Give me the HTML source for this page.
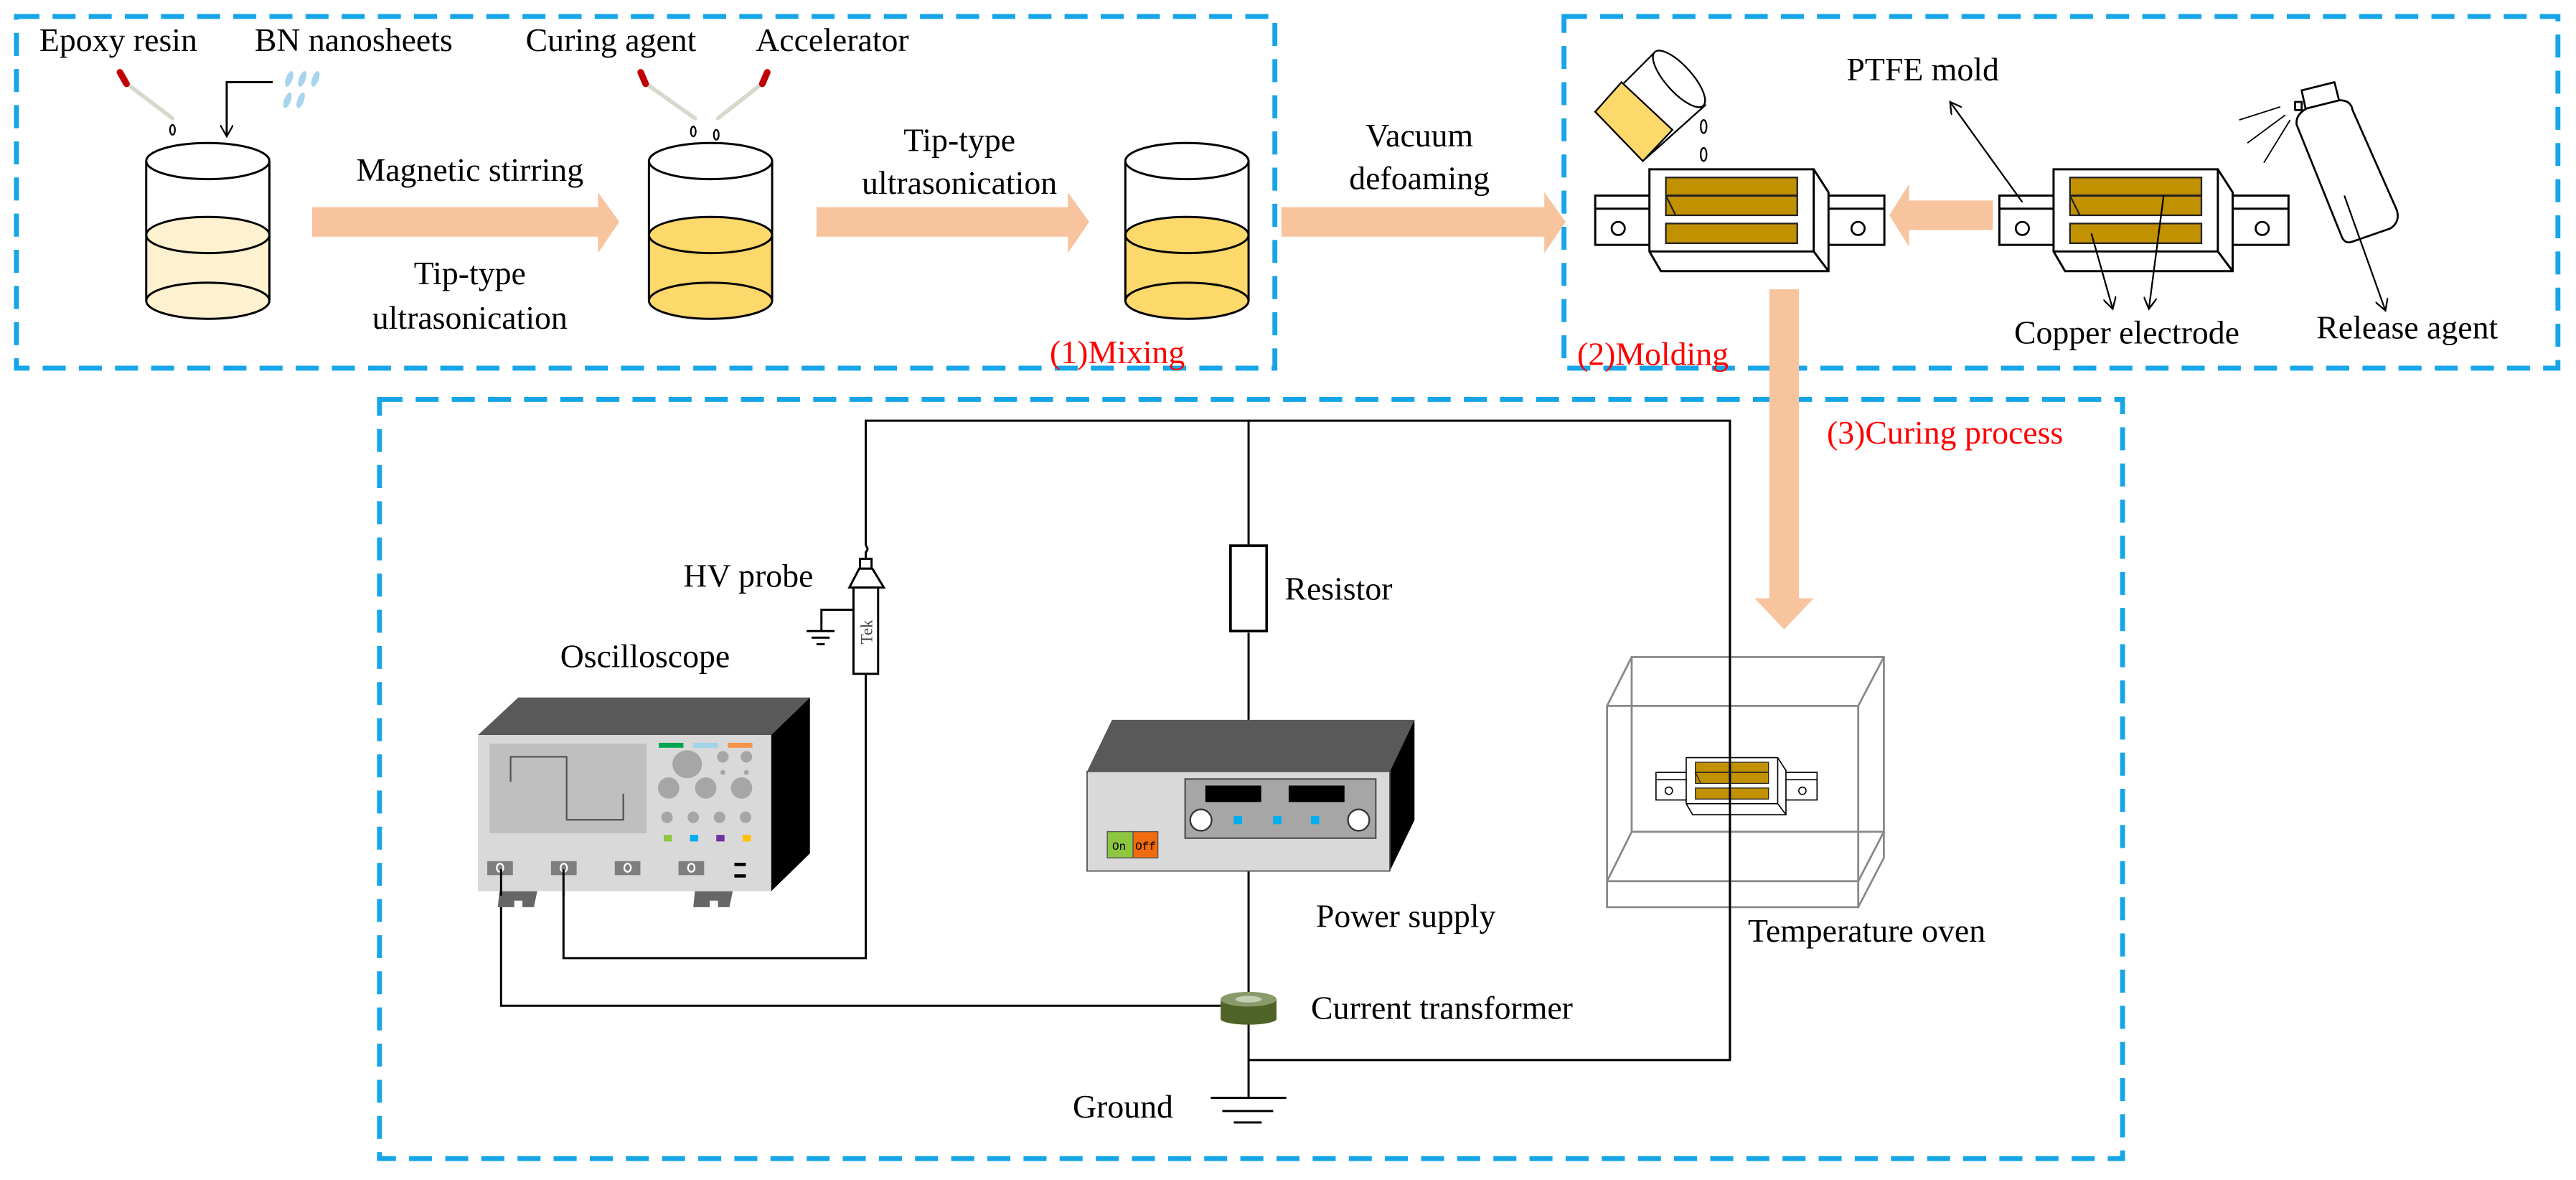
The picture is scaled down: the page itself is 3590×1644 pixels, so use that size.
<!DOCTYPE html>
<html><head><meta charset="utf-8"><style>
html,body{margin:0;padding:0;background:#fff;}
svg{display:block;}
</style></head><body>
<svg width="3590" height="1644" viewBox="0 0 1568 718" preserveAspectRatio="none" xmlns="http://www.w3.org/2000/svg">
<defs>
<g id="mold">
  <rect x="0" y="16" width="176" height="30" fill="#fff" stroke="#000" stroke-width="1.3"/>
  <line x1="0" y1="24" x2="33" y2="24" stroke="#000" stroke-width="1.3"/>
  <line x1="135" y1="24" x2="176" y2="24" stroke="#000" stroke-width="1.3"/>
  <polygon points="33,0 133,0 142,14 142,62 40,62 33,50" fill="#fff" stroke="#000" stroke-width="1.3"/>
  <line x1="33" y1="50" x2="133" y2="50" stroke="#000" stroke-width="1.3"/>
  <line x1="133" y1="0" x2="133" y2="50" stroke="#000" stroke-width="1.3"/>
  <line x1="133" y1="50" x2="142" y2="62" stroke="#000" stroke-width="1.3"/>
  <rect x="43" y="5" width="80" height="23" fill="#c19100" stroke="#222" stroke-width="1"/>
  <line x1="43" y1="16" x2="123" y2="16" stroke="#222" stroke-width="1.3"/>
  <rect x="43" y="33" width="80" height="12" fill="#c19100" stroke="#222" stroke-width="1"/>
  <line x1="43" y1="16" x2="49" y2="28" stroke="#222" stroke-width="1"/>
  <circle cx="14" cy="36" r="4" fill="#fff" stroke="#000" stroke-width="1.2"/>
  <circle cx="160" cy="36" r="4" fill="#fff" stroke="#000" stroke-width="1.2"/>
</g>
<marker id="ah" markerWidth="8" markerHeight="8" refX="7" refY="4" orient="auto" markerUnits="userSpaceOnUse">
  <path d="M0,0 L7,4 L0,8" fill="none" stroke="#000" stroke-width="1"/>
</marker>
</defs>

<g fill="none" stroke="#16a5e8" stroke-width="3" stroke-dasharray="14,8">
  <rect x="10" y="10" width="766" height="214"/>
  <rect x="952" y="10" width="605" height="214"/>
  <rect x="231" y="243" width="1061" height="462"/>
</g>

<g stroke="#000" stroke-width="1.3">
  <g>
    <rect x="89" y="143" width="75" height="40" fill="#fdf1cf" stroke="none"/>
    <ellipse cx="126.5" cy="183" rx="37.5" ry="11" fill="#fdf1cf"/>
    <ellipse cx="126.5" cy="143" rx="37.5" ry="11" fill="#fdf1cf"/>
    <line x1="89" y1="98" x2="89" y2="183"/><line x1="164" y1="98" x2="164" y2="183"/>
    <ellipse cx="126.5" cy="98" rx="37.5" ry="11" fill="#fff"/>
  </g>
  <g>
    <rect x="395" y="143" width="75" height="40" fill="#fdd86a" stroke="none"/>
    <ellipse cx="432.5" cy="183" rx="37.5" ry="11" fill="#fdd86a"/>
    <ellipse cx="432.5" cy="143" rx="37.5" ry="11" fill="#fdd86a"/>
    <line x1="395" y1="98" x2="395" y2="183"/><line x1="470" y1="98" x2="470" y2="183"/>
    <ellipse cx="432.5" cy="98" rx="37.5" ry="11" fill="#fff"/>
  </g>
  <g>
    <rect x="685" y="143" width="75" height="40" fill="#fdd86a" stroke="none"/>
    <ellipse cx="722.5" cy="183" rx="37.5" ry="11" fill="#fdd86a"/>
    <ellipse cx="722.5" cy="143" rx="37.5" ry="11" fill="#fdd86a"/>
    <line x1="685" y1="98" x2="685" y2="183"/><line x1="760" y1="98" x2="760" y2="183"/>
    <ellipse cx="722.5" cy="98" rx="37.5" ry="11" fill="#fff"/>
  </g>
</g>

<g stroke-linecap="round">
  <line x1="76" y1="50" x2="105" y2="72" stroke="#d8d8cc" stroke-width="2.5"/>
  <line x1="73" y1="44" x2="77" y2="51" stroke="#c00000" stroke-width="4"/>
  <line x1="392" y1="50" x2="423" y2="72" stroke="#d8d8cc" stroke-width="2.5"/>
  <line x1="390" y1="44" x2="393" y2="51" stroke="#c00000" stroke-width="4"/>
  <line x1="465" y1="50" x2="437" y2="72" stroke="#d8d8cc" stroke-width="2.5"/>
  <line x1="467" y1="44" x2="464" y2="51" stroke="#c00000" stroke-width="4"/>
</g>
<g fill="#fff" stroke="#000" stroke-width="1">
  <ellipse cx="105" cy="79" rx="1.5" ry="3"/>
  <ellipse cx="422" cy="80" rx="1.5" ry="3"/>
  <ellipse cx="436" cy="82" rx="1.5" ry="3"/>
  <ellipse cx="1037" cy="77" rx="1.8" ry="4"/>
  <ellipse cx="1037" cy="94" rx="1.8" ry="4"/>
</g>
<g fill="#a8d4ec">
  <ellipse cx="176" cy="48" rx="2" ry="5" transform="rotate(20 176 48)"/>
  <ellipse cx="184" cy="48" rx="2" ry="5" transform="rotate(20 184 48)"/>
  <ellipse cx="192" cy="48" rx="2" ry="5" transform="rotate(20 192 48)"/>
  <ellipse cx="175" cy="61" rx="2" ry="5" transform="rotate(20 175 61)"/>
  <ellipse cx="183" cy="61" rx="2" ry="5" transform="rotate(20 183 61)"/>
</g>
<polyline points="166,50 138,50 138,83" fill="none" stroke="#000" stroke-width="1.3" marker-end="url(#ah)"/>

<g fill="#f8c49e">
  <polygon points="190,126 364,126 364,117 377,135 364,154 364,144 190,144"/>
  <polygon points="497,126 650,126 650,117 663,135 650,154 650,144 497,144"/>
  <polygon points="780,126 940,126 940,117 953,135 940,154 940,144 780,144"/>
  <polygon points="1213,122 1162,122 1162,112 1150,131 1162,150 1162,140 1213,140"/>
  <polygon points="1077,176 1095,176 1095,364 1104,364 1086,383 1068,364 1077,364"/>
</g>

<g font-size="20" font-family="Liberation Serif, serif" fill="#000">
  <text x="24" y="31">Epoxy resin</text>
  <text x="155" y="31">BN nanosheets</text>
  <text x="320" y="31">Curing agent</text>
  <text x="460" y="31">Accelerator</text>
  <text x="286" y="110" text-anchor="middle">Magnetic stirring</text>
  <text x="286" y="173" text-anchor="middle">Tip-type</text>
  <text x="286" y="200" text-anchor="middle">ultrasonication</text>
  <text x="584" y="92" text-anchor="middle">Tip-type</text>
  <text x="584" y="118" text-anchor="middle">ultrasonication</text>
  <text x="864" y="89" text-anchor="middle">Vacuum</text>
  <text x="864" y="115" text-anchor="middle">defoaming</text>
  <text x="1124" y="49">PTFE mold</text>
  <text x="1226" y="209">Copper electrode</text>
  <text x="1410" y="206">Release agent</text>
  <text x="639" y="221" fill="#ff0000">(1)Mixing</text>
  <text x="960" y="222" fill="#ff0000">(2)Molding</text>
  <text x="1112" y="270" fill="#ff0000">(3)Curing process</text>
</g>

<use href="#mold" x="971" y="103"/>
<use href="#mold" x="1217" y="103"/>

<g stroke="#000" stroke-width="1">
  <polygon points="971,68 1007,32 1038,64 1000,98" fill="#fff"/>
  <polygon points="971,68 987,50 1018,79 1000,98" fill="#fdd86a"/>
  <ellipse cx="1022" cy="48" rx="8" ry="22" transform="rotate(-42 1022 48)" fill="#fff"/>
</g>

<g stroke="#000" stroke-width="1.2" fill="#fff" stroke-linejoin="round">
  <polygon points="1401,55 1421,50 1424,62 1404,69"/>
  <rect x="1397" y="62" width="4" height="5"/>
  <path d="M1398,76 Q1397,70 1404,66 L1424,61 Q1431,61 1432,67 L1459,128 Q1461,135 1455,139 L1432,147 Q1427,149 1425,143 Z"/>
</g>
<g stroke="#000" stroke-width="0.8">
  <line x1="1363" y1="73" x2="1388" y2="65"/>
  <line x1="1368" y1="87" x2="1391" y2="70"/>
  <line x1="1378" y1="99" x2="1394" y2="73"/>
</g>

<g stroke="#000" stroke-width="1" fill="none" marker-end="url(#ah)">
  <line x1="1231" y1="123" x2="1187" y2="62"/>
  <line x1="1273" y1="142" x2="1286" y2="188"/>
  <line x1="1317" y1="119" x2="1308" y2="188"/>
  <line x1="1427" y1="119" x2="1452" y2="189"/>
</g>

<g stroke="#000" stroke-width="1.3" fill="none">
  <polyline points="527,332 527,256 1053,256 1053,645 760,645"/>
  <line x1="760" y1="256" x2="760" y2="332"/>
  <line x1="760" y1="385" x2="760" y2="438"/>
  <line x1="760" y1="530" x2="760" y2="668"/>
  <polyline points="527,410 527,583 343,583 343,529"/>
  <polyline points="305,529 305,612 743,612"/>
  <line x1="737" y1="668" x2="783" y2="668"/>
  <line x1="744" y1="676" x2="775" y2="676"/>
  <line x1="751" y1="683" x2="768" y2="683"/>
  <path d="M527,332 q2,2 0,4 l0,4"/>
  <polyline points="520,371 500,371 500,384"/>
  <line x1="491" y1="384" x2="508" y2="384"/>
  <line x1="494" y1="388" x2="505" y2="388"/>
  <line x1="497" y1="392" x2="502" y2="392"/>
</g>
<rect x="749" y="332" width="22" height="52" fill="#fff" stroke="#000" stroke-width="1.6"/>
<g stroke="#000" stroke-width="1.3" fill="#fff">
  <rect x="523.5" y="340" width="7" height="6"/>
  <polygon points="523,346 531,346 538,357.5 517,357.5"/>
  <rect x="519.5" y="357.5" width="15" height="52.5"/>
</g>
<text x="0" y="0" font-size="10" font-family="Liberation Serif, serif" fill="#444" transform="translate(531,392) rotate(-90)">Tek</text>

<polygon points="315.5,424.4 493,424.4 469.4,447.3 290.9,447.3" fill="#595959"/>
<polygon points="469.4,447.3 493,424.4 493,519.3 469.4,542.3" fill="#000"/>
<rect x="290.9" y="447.3" width="178.5" height="95" fill="#d9d9d9"/>
<rect x="298" y="452.5" width="95.6" height="54.5" fill="#bfbfbf"/>
<polyline points="310.8,475.7 310.8,460.5 344.9,460.5 344.9,498.8 379.4,498.8 379.4,483" fill="none" stroke="#555" stroke-width="1"/>
<rect x="401" y="452" width="15" height="3" fill="#00a650"/>
<rect x="422" y="452" width="15" height="3" fill="#9fd3e8"/>
<rect x="443" y="452" width="15" height="3" fill="#f4954e"/>
<g fill="#a6a6a6">
  <ellipse cx="418.3" cy="465" rx="9" ry="8.5"/>
  <ellipse cx="440" cy="460.5" rx="3.5" ry="3.5"/>
  <ellipse cx="454.3" cy="460.5" rx="3.5" ry="3.5"/>
  <circle cx="440" cy="470" r="1.5"/><circle cx="454.3" cy="470" r="1.5"/>
  <ellipse cx="407" cy="479.5" rx="6.5" ry="6.5"/>
  <ellipse cx="429.6" cy="479.5" rx="6.5" ry="6.5"/>
  <ellipse cx="451.4" cy="479.5" rx="6.5" ry="6.5"/>
  <circle cx="406" cy="497.3" r="3.5"/><circle cx="422" cy="497.3" r="3.5"/>
  <circle cx="438" cy="497.3" r="3.5"/><circle cx="453.8" cy="497.3" r="3.5"/>
</g>
<rect x="404" y="508" width="5" height="4" fill="#8dc63f"/>
<rect x="420" y="508" width="5" height="4" fill="#00aeef"/>
<rect x="436" y="508" width="5" height="4" fill="#7030a0"/>
<rect x="452" y="508" width="5" height="4" fill="#ffc000"/>
<g fill="#7f7f7f">
  <rect x="296.6" y="524" width="15.6" height="8.5"/>
  <rect x="335.4" y="524" width="15.6" height="8.5"/>
  <rect x="374.2" y="524" width="15.6" height="8.5"/>
  <rect x="413" y="524" width="15.6" height="8.5"/>
</g>
<g fill="none" stroke="#fff" stroke-width="1">
  <ellipse cx="304.4" cy="528" rx="2" ry="2.5"/>
  <ellipse cx="343.2" cy="528" rx="2" ry="2.5"/>
  <ellipse cx="382" cy="528" rx="2" ry="2.5"/>
  <ellipse cx="420.8" cy="528" rx="2" ry="2.5"/>
</g>
<rect x="447" y="525" width="7" height="2" fill="#000"/>
<rect x="447" y="532" width="7" height="2" fill="#000"/>
<polygon points="304,542.3 327,542.3 325,552 318,552 318,548 313,548 313,552 303,552" fill="#666"/>
<polygon points="423,542.3 446,542.3 444,552 437,552 437,548 432,548 432,552 422,552" fill="#666"/>
<line x1="343" y1="529" x2="343" y2="545" stroke="#000" stroke-width="1.3"/>
<line x1="305" y1="529" x2="305" y2="545" stroke="#000" stroke-width="1.3"/>

<polygon points="676.9,438 861,438 846,469.4 661.7,469.4" fill="#595959"/>
<polygon points="846,469.4 861,438 861,499 846,530" fill="#000"/>
<rect x="661.7" y="469.4" width="184.3" height="60.6" fill="#d9d9d9" stroke="#555" stroke-width="0.8"/>
<rect x="721.4" y="474" width="116" height="36" fill="#a6a6a6" stroke="#555" stroke-width="1"/>
<rect x="733.7" y="478" width="34" height="10" fill="#000"/>
<rect x="784.4" y="478" width="34" height="10" fill="#000"/>
<ellipse cx="731" cy="499" rx="6.5" ry="6.5" fill="#fff" stroke="#333"/>
<ellipse cx="827" cy="499" rx="6.5" ry="6.5" fill="#fff" stroke="#333"/>
<rect x="751" y="496.5" width="5" height="5" fill="#00aeef"/>
<rect x="775" y="496.5" width="5" height="5" fill="#00aeef"/>
<rect x="798" y="496.5" width="5" height="5" fill="#00aeef"/>
<rect x="674" y="506" width="15.7" height="16" fill="#8dc63f" stroke="#555" stroke-width="0.6"/>
<rect x="689.7" y="506" width="15.1" height="16" fill="#f26b0f" stroke="#555" stroke-width="0.6"/>
<text x="677" y="517" font-size="7" font-family="Liberation Mono, monospace">On</text>
<text x="691" y="517" font-size="7" font-family="Liberation Mono, monospace">Off</text>

<rect x="743" y="608" width="34" height="12" fill="#4f6228"/>
<ellipse cx="760" cy="620" rx="17" ry="3.5" fill="#4f6228"/>
<ellipse cx="760" cy="608" rx="17" ry="4.5" fill="#8a9a6a"/>
<ellipse cx="760" cy="608" rx="8" ry="2" fill="#c4cfb0"/>

<g fill="none" stroke="#888" stroke-width="1.2">
  <rect x="993.2" y="399.8" width="153.5" height="106.3"/>
  <rect x="978.2" y="429.5" width="152.9" height="106.7"/>
  <line x1="978.2" y1="429.5" x2="993.2" y2="399.8"/>
  <line x1="1131.1" y1="429.5" x2="1146.7" y2="399.8"/>
  <line x1="978.2" y1="536.2" x2="993.2" y2="506.1"/>
  <line x1="1131.1" y1="536.2" x2="1146.7" y2="506.1"/>
  <polyline points="978.2,536.2 978.2,552 1131.1,552 1131.1,536.2"/>
  <polyline points="1131.1,552 1146.7,522 1146.7,506"/>
</g>
<use href="#mold" transform="translate(1008,461) scale(0.557,0.56)"/>
<line x1="1053" y1="256" x2="1053" y2="645" stroke="#000" stroke-width="1.3"/>

<g font-size="20" font-family="Liberation Serif, serif" fill="#000">
  <text x="416" y="357">HV probe</text>
  <text x="341" y="406">Oscilloscope</text>
  <text x="782" y="365">Resistor</text>
  <text x="801" y="564">Power supply</text>
  <text x="798" y="620">Current transformer</text>
  <text x="653" y="680">Ground</text>
  <text x="1064" y="573">Temperature oven</text>
</g>
</svg>
</body></html>
